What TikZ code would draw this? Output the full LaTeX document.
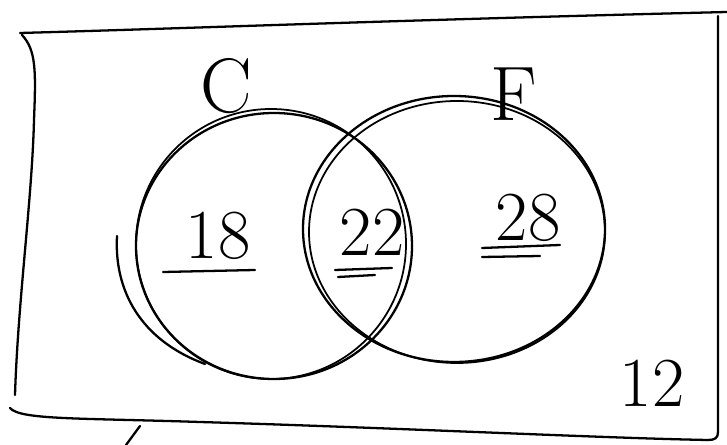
\documentclass[tikz,border=0pt]{standalone}
\usepackage{tikz}
\usetikzlibrary{calc}

\begin{document}
\begin{tikzpicture}[x=0.02cm, y=-0.02cm,
    sketch/.style={line width=1.3pt, line cap=round, line join=round},
    thinsketch/.style={line width=1pt, line cap=round},
    numtxt/.style={font=\fontsize{40}{40}\selectfont, inner sep=0pt},
    settxt/.style={font=\fontsize{44}{44}\selectfont, inner sep=0pt}]
  \useasboundingbox (0,0) rectangle (727,445);

  % Outer box (universal set)
  \draw[sketch] (20,33) .. controls (200,28) and (400,20) .. (727,12);
  \draw[sketch] (22,35) .. controls (36,50) and (36,70) .. (34,120)
                        .. controls (32,200) and (18,300) .. (15,395);
  \draw[sketch] (718,16) -- (718,432) .. controls (718,438) and (715,440) .. (708,440);
  \draw[sketch] (10,408) .. controls (20,420) and (80,418) .. (200,422)
                        .. controls (400,428) and (600,438) .. (708,440);
  \draw[sketch] (140,426) -- (126,445);

  % Circle centres
  \coordinate (cC) at (274,246);
  \coordinate (cF) at (454,229);

  % Left circle (C), drawn twice for the sketch look
  \draw[sketch] (cC) ellipse [x radius=138, y radius=133];
  \draw[thinsketch] ($(cC)+(-3,-2)$) ellipse [x radius=135, y radius=135];
  \draw[sketch] (117,236) .. controls (114,290) and (140,340) .. (205,364);

  % Right circle (F), drawn twice
  \draw[sketch] (cF) ellipse [x radius=151, y radius=133];
  \draw[thinsketch] ($(cF)+(3,3)$) ellipse [x radius=148, y radius=131];

  % Set labels
  \node[settxt] (labC) at (226,86) {C};
  \node[settxt] (labF) at (514,94) {F};

  % Region counts
  \node[numtxt] (onlyC) at (218,236) {18};
  \node[numtxt] (both) at (372,232) {22};
  \node[numtxt] (onlyF) at (528,218) {28};
  \node[numtxt] (none) at (652,383) {12};

  % Underlines
  \draw[sketch] ($(onlyC)+(-55,36)$) -- ($(onlyC)+(37,34)$);
  \draw[sketch] ($(both)+(-37,38)$) -- ($(both)+(20,36)$);
  \draw[sketch] ($(both)+(-34,45)$) -- ($(both)+(3,43)$);
  \draw[sketch] ($(onlyF)+(-46,30)$) -- ($(onlyF)+(32,27)$);
  \draw[sketch] ($(onlyF)+(-46,39)$) -- ($(onlyF)+(12,38)$);
\end{tikzpicture}
\end{document}
